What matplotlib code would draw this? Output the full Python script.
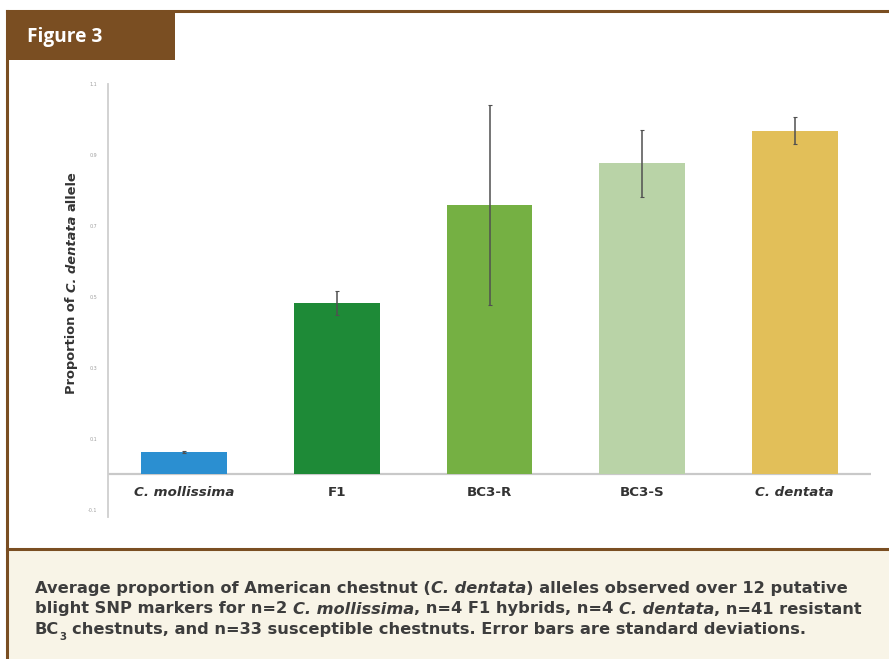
import matplotlib.pyplot as plt
from matplotlib.patches import Rectangle
from matplotlib.lines import Line2D

groups = ["C. mollissima", "F1", "BC3-R", "BC3-S", "C. dentata"]
means = [0.063, 0.483, 0.759, 0.877, 0.968]
sds = [0.002, 0.034, 0.282, 0.094, 0.038]
colors = ["#2b8fd1", "#1e8a37", "#75b043", "#b9d3a7", "#e2bf59"]
yticks = [-0.1, 0.1, 0.3, 0.5, 0.7, 0.9, 1.1]

caption = [
    [("Average proportion of American chestnut (", "n"), ("C. dentata", "i"),
     (") alleles observed over 12 putative", "n")],
    [("blight SNP markers for n=2 ", "n"), ("C. mollissima", "i"),
     (", n=4 F1 hybrids, n=4 ", "n"), ("C. dentata", "i"), (", n=41 resistant", "n")],
    [("BC", "n"), ("3", "sub"), (" chestnuts, and n=33 susceptible chestnuts. Error bars are standard deviations.", "n")],
]
ylabel = [("Proportion of ", "n"), ("C. dentata", "i"), (" allele", "n")]

BROWN = "#7a4e22"
CREAM = "#f8f4e7"
W, H = 889, 659


def fx(x):
    return x / W


def fy(y):
    return 1 - y / H


def extent(fig, r, s, **kw):
    t = fig.text(0, 0, s, **kw)
    bb = t.get_window_extent(renderer=r)
    t.remove()
    return bb.width, bb.height


def put_segments(fig, x, y, segs, size, color, family, rotation=0, draw=True):
    # lays out a run of text pieces (normal / italic / subscript) one after another
    # returns the total run length in pixels
    r = fig.canvas.get_renderer()
    base = dict(fontsize=size, fontweight="bold", family=family, color=color)
    k = 1 if rotation else 0
    rot = dict(rotation=90) if rotation else {}
    sw = extent(fig, r, "a a", **rot, **base)[k] - extent(fig, r, "aa", **rot, **base)[k]
    start = (H - y) if rotation else x
    pos = start
    for txt, style in segs:
        kw = dict(base)
        dy = 0
        if style == "i":
            kw["fontstyle"] = "italic"
        if style == "sub":
            kw["fontsize"] = size * 0.62
            dy = -size * 0.35 / 72 * fig.dpi
        core = txt.strip()
        lead = len(txt) - len(txt.lstrip())
        trail = len(txt) - len(txt.rstrip())
        pos += lead * sw
        if rotation:
            t = fig.text(fx(x), pos / H, core, rotation=90, ha="center", va="bottom", **kw)
            adv = t.get_window_extent(renderer=r).height
        else:
            t = fig.text(pos / W, fy(y) + dy / H, core, ha="left", va="baseline", **kw)
            adv = t.get_window_extent(renderer=r).width
        if not draw:
            t.remove()
        pos += adv + trail * sw
    return pos - start


fig = plt.figure(figsize=(W / 100, H / 100), dpi=100)
fig.patch.set_facecolor("white")

# caption panel and brown frame
fig.add_artist(Rectangle((fx(7), 0), 1, fy(549), transform=fig.transFigure,
                         facecolor=CREAM, edgecolor="none", zorder=0))
fig.add_artist(Line2D([fx(7), 1], [fy(11), fy(11)], color=BROWN, lw=2.2))
fig.add_artist(Line2D([fx(7), 1], [fy(549), fy(549)], color=BROWN, lw=2.2))
fig.add_artist(Line2D([fx(7), fx(7)], [0, fy(11)], color=BROWN, lw=2.2))
fig.add_artist(Rectangle((fx(7), fy(60)), fx(175) - fx(7), fy(11) - fy(60),
                         transform=fig.transFigure, facecolor=BROWN, edgecolor="none"))
fig.text(fx(27), fy(37), "Figure 3", color="white", fontsize=13.8, fontweight="bold",
         family="Open Sans", va="center", ha="left")

ax = fig.add_axes([fx(108), fy(517), fx(871) - fx(108), fy(84) - fy(517)])
x = list(range(len(groups)))
ax.bar(x, means, width=0.563, color=colors, zorder=2)
ax.errorbar(x, means, yerr=sds, fmt="none", ecolor="#505050", elinewidth=1.1,
            capsize=1.5, capthick=0.8, zorder=3)
ax.axhline(0, color="#c9c9c9", lw=1.6, zorder=1)
ax.set_xlim(-0.5, 4.5)
ax.set_ylim(-0.12, 1.1)
ax.set_yticks(yticks)
ax.set_yticklabels([f"{v:.1f}" for v in yticks], fontsize=3.5, color="#a0a0a0")
ax.tick_params(axis="y", length=0, pad=8)
ax.tick_params(axis="x", length=0, pad=6)
ax.set_xticks(x)
ax.set_xticklabels([])
for spine in ["top", "right", "bottom"]:
    ax.spines[spine].set_visible(False)
ax.spines["left"].set_color("#cfcfcf")
ax.spines["left"].set_linewidth(1.3)
for i, g in enumerate(groups):
    ax.text(i, -0.05, g, ha="center", va="center", fontsize=9.6, fontweight="bold",
            color="#333333", fontstyle="italic" if g.startswith("C.") else "normal")

fig.canvas.draw()
put_segments(fig, 72, 394, ylabel, 9.4, "#333333", "DejaVu Sans", rotation=90)

# fit caption size so the three lines span about the same widths as the reference
cap_font = "DejaVu Sans"
probe = 12
targets = [816, 813, 766]
measured = [put_segments(fig, 35, 600, line, probe, "#3d3d3d", cap_font, draw=False)
            for line in caption]
cap_size = probe * sum(targets) / sum(measured)
for i, line in enumerate(caption):
    put_segments(fig, 35, 593 + i * 20.5, line, cap_size, "#3d3d3d", cap_font)

fig.savefig("out.png", dpi=100, facecolor=fig.get_facecolor())
